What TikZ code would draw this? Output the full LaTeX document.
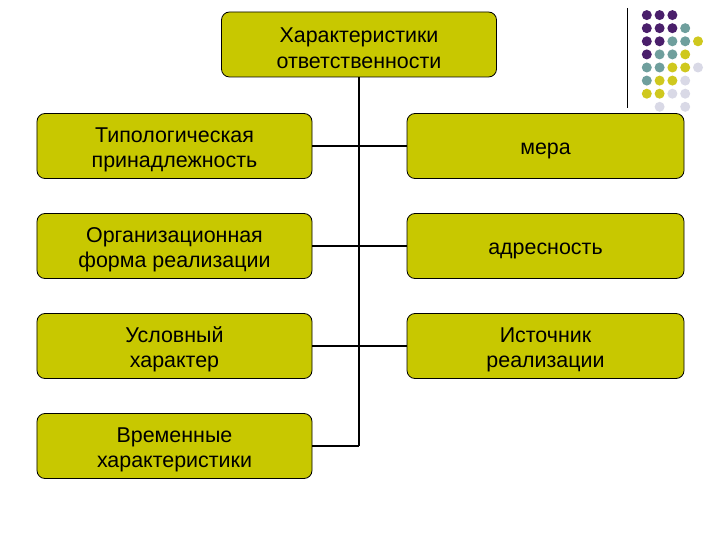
\documentclass[tikz,border=0pt]{standalone}
\usepackage{fontspec}
\setmainfont{Liberation Sans}
\usetikzlibrary{positioning}
\definecolor{boxfill}{HTML}{C8C800}
\definecolor{dotA}{HTML}{4A1F6B}
\definecolor{dotB}{HTML}{6F9F9D}
\definecolor{dotC}{HTML}{CFC81E}
\definecolor{dotD}{HTML}{D9D9E6}
\newcommand{\twenty}{\fontsize{21.5}{25.5}\selectfont}
\newcommand{\lift}{\rule{0pt}{22bp}}
\tikzset{
 every node/.append style={font=\twenty,text=black,align=center},
 box/.style={draw=black,fill=boxfill,rounded corners=8bp,line width=.8pt,minimum width=275bp,minimum height=65bp,inner sep=2bp},
 link/.style={draw=black,line width=2pt},
 dot/.style={circle,inner sep=0pt,minimum size=10bp},
}

\begin{document}
\begin{tikzpicture}[x=1bp,y=-1bp]
\useasboundingbox (0,0) rectangle (720,540);

% decoration, top right
\draw[line width=1pt] (627,8) -- (627,108);
\foreach \col/\row/\c in {1/1/dotA,2/1/dotA,3/1/dotA,
  1/2/dotA,2/2/dotA,3/2/dotA,4/2/dotB,
  1/3/dotA,2/3/dotA,3/3/dotB,4/3/dotB,5/3/dotC,
  1/4/dotA,2/4/dotB,3/4/dotB,4/4/dotC,
  1/5/dotB,2/5/dotB,3/5/dotC,4/5/dotC,5/5/dotD,
  1/6/dotB,2/6/dotC,3/6/dotC,4/6/dotD,
  1/7/dotC,2/7/dotC,3/7/dotD,4/7/dotD,
  2/8/dotD,4/8/dotD}
  \node[dot,fill=\c] (d\col\row) at ({634+12.8*\col},{2+13.1*\row}) {};

\node[box] (top) at (359,44.5) {\lift Характеристики\\ответственности};

\node[box] (typo) at (174.5,146) {\lift Типологическая\\принадлежность};
\node[box] (org) at (174.5,246) {\lift Организационная\\форма реализации};
\node[box] (cond) at (174.5,346) {\lift Условный\\характер};
\node[box] (time) at (174.5,446) {\lift Временные\\характеристики};

\node[box,minimum width=277bp] (measure) at (545.5,146) {\lift мера};
\node[box,minimum width=277bp] (address) at (545.5,246) {\lift адресность};
\node[box,minimum width=277bp] (source) at (545.5,346) {\lift Источник\\реализации};

\coordinate (trunk) at (top.south |- time.east);
\draw[link] (top.south) -- (trunk);
\draw[link] (typo.east) -- (measure.west);
\draw[link] (org.east) -- (address.west);
\draw[link] (cond.east) -- (source.west);
\draw[link] (time.east) -- (trunk);
\end{tikzpicture}
\end{document}
